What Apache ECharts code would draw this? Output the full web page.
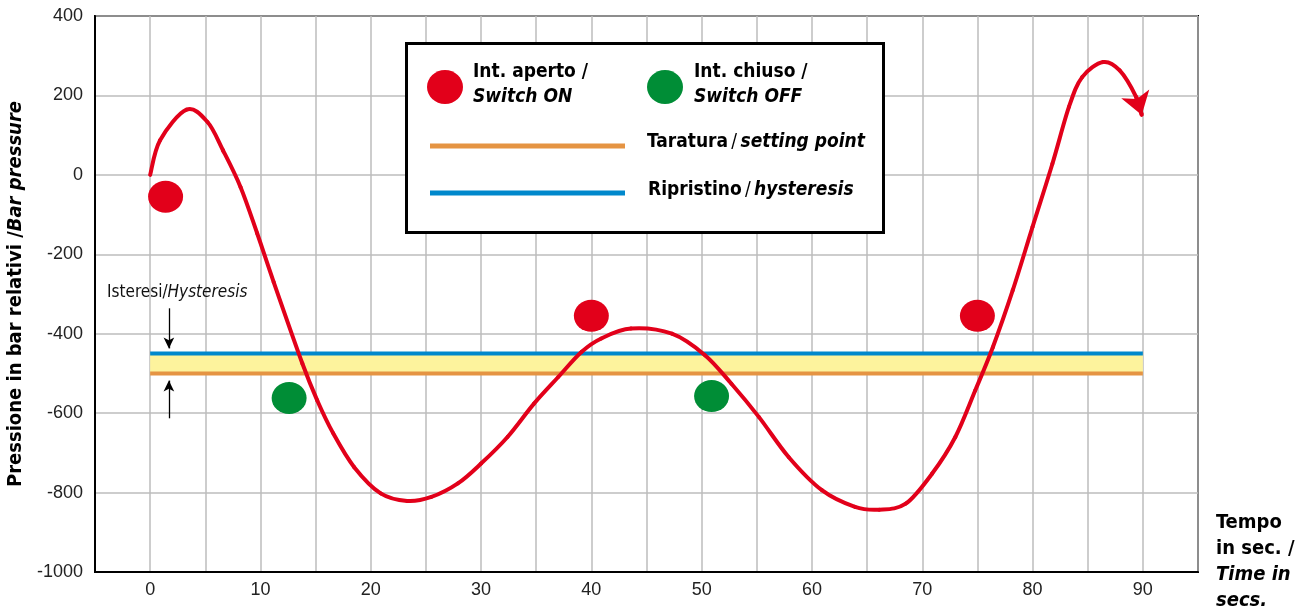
<!DOCTYPE html>
<html>
<head>
<meta charset="utf-8">
<script src="https://cdn.jsdelivr.net/npm/echarts@6/dist/echarts.min.js"></script>
<style>
  html, body { margin: 0; padding: 0; background: #fff; }
  #chart { width: 1306px; height: 616px; }
</style>
</head>
<body>
<div id="chart"></div>
<script>
// curve (time in s, pressure in bar)
const timeSec = [0, 0.9, 3.3, 5.2, 6.6, 8.2, 9.7, 11.2, 13.8, 15.15, 16.6, 18.5, 20.9, 23.3, 25.5, 27.9, 30, 32.4, 34.8, 37.0, 39.1, 40.9, 43.6, 47.3, 50.3, 52.7, 55.2, 57.9, 60.9, 63.9, 66.1, 68.5, 70.9, 73.0, 74.8, 76.4, 78.2, 80, 81.8, 83.3, 84.5, 86.4, 87.9, 89.4, 89.9]
const pressure = [0, 87, 164, 133, 62, -31, -147, -270, -475, -568, -651, -736, -802, -821, -811, -777, -727, -660, -576, -509, -446, -412, -387, -400, -454, -526, -610, -711, -794, -836, -843, -828, -752, -660, -543, -434, -291, -131, 28, 171, 246, 284, 263, 196, 151]

// switch markers
const switchOnTime = [1.4, 40, 75]
const switchOnPressure = [-55, -355, -355]
const switchOffTime = [12.6, 50.9]
const switchOffPressure = [-562, -557]

// setting point / hysteresis band
const settingPoint = -500
const resetPoint = -450
const bandTime = [0, 90]

// little arrows marking the hysteresis
const hystArrowTime = 1.7
const hystArrowDown = [-336, -437]
const hystArrowUp = [-613, -518]

const RED = '#e2001a'
const GREEN = '#008d36'
const BLUE = '#0088cc'
const ORANGE = '#e59443'
const YELLOW = '#fdf39d'
const FONT = "'DejaVu Sans Condensed', 'Liberation Sans Narrow', sans-serif"
const TICKFONT = "'Liberation Sans', Arial, sans-serif"

const curve = timeSec.map((t, i) => [t, pressure[i]])
const n = curve.length

const myChart = echarts.init(document.getElementById('chart'))

// each item draws the segment to the next point as a catmull-rom bezier
const renderCurveSegment = (params, api) => {
  const i = params.dataIndex
  if (i >= n - 1) return null
  const p0 = api.coord(curve[Math.max(i - 1, 0)])
  const p1 = api.coord(curve[i])
  const p2 = api.coord(curve[i + 1])
  const p3 = api.coord(curve[Math.min(i + 2, n - 1)])
  return {
    type: 'bezierCurve',
    shape: {
      x1: p1[0], y1: p1[1], x2: p2[0], y2: p2[1],
      cpx1: p1[0] + (p2[0] - p0[0]) / 6, cpy1: p1[1] + (p2[1] - p0[1]) / 6,
      cpx2: p2[0] - (p3[0] - p1[0]) / 6, cpy2: p2[1] - (p3[1] - p1[1]) / 6
    },
    style: { stroke: RED, lineWidth: 4, fill: null, lineCap: 'round' }
  }
}

const bold = { fontFamily: FONT, fontWeight: 'bold', fontSize: 19, fill: '#000' }
const boldItalic = { fontFamily: FONT, fontWeight: 'bold', fontStyle: 'italic', fontSize: 19, fill: '#000' }
const plain = { fontFamily: FONT, fontSize: 19, fill: '#000' }

const options = {
  animation: false,
  grid: {
    left: 95, right: 108, top: 16, bottom: 44,
    containLabel: false,
    outerBoundsMode: 'none',
    show: true,
    borderColor: '#000',
    borderWidth: 2,
    backgroundColor: 'transparent'
  },
  xAxis: {
    type: 'value',
    min: -5,
    max: 95,
    interval: 5,
    axisLine: { onZero: false, lineStyle: { color: '#000', width: 2 } },
    axisTick: { show: false },
    axisLabel: {
      color: '#222',
      fontSize: 18,
      fontFamily: TICKFONT,
      margin: 9,
      formatter: v => (v >= 0 && v <= 90 && v % 10 === 0) ? String(v) : ''
    },
    splitLine: { lineStyle: { color: '#bdbdbd', width: 1.5 } }
  },
  yAxis: {
    type: 'value',
    min: -1000,
    max: 400,
    interval: 200,
    name: '{b|Pressione in bar relativi /}{bi|Bar pressure}',
    nameLocation: 'middle',
    nameGap: 64,
    nameRotate: 90,
    nameTextStyle: {
      rich: {
        b: { fontFamily: FONT, fontWeight: 'bold', fontSize: 20, color: '#000' },
        bi: { fontFamily: FONT, fontWeight: 'bold', fontStyle: 'italic', fontSize: 20, color: '#000' }
      }
    },
    axisLine: { show: true, onZero: false, lineStyle: { color: '#000', width: 2 } },
    axisTick: { show: false },
    axisLabel: { color: '#222', fontSize: 18, fontFamily: TICKFONT, margin: 12, formatter: v => String(v) },
    splitLine: { lineStyle: { color: '#bdbdbd', width: 1.5 } }
  },
  series: [
    {
      name: 'Taratura',
      type: 'line',
      symbol: 'none',
      silent: true,
      data: bandTime.map(t => [t, settingPoint]),
      lineStyle: { color: ORANGE, width: 4 },
      markArea: {
        silent: true,
        itemStyle: { color: YELLOW },
        data: [[{ coord: [bandTime[0], settingPoint] }, { coord: [bandTime[1], resetPoint] }]]
      },
      z: 2
    },
    {
      name: 'Ripristino',
      type: 'line',
      symbol: 'none',
      silent: true,
      data: bandTime.map(t => [t, resetPoint]),
      lineStyle: { color: BLUE, width: 4 },
      markLine: {
        silent: true,
        symbol: ['none', 'arrow'],
        symbolSize: [8, 11],
        label: { show: false },
        lineStyle: { color: '#000', width: 1.3, type: 'solid' },
        data: [
          [{ coord: [hystArrowTime, hystArrowDown[0]] }, { coord: [hystArrowTime, hystArrowDown[1]] }],
          [{ coord: [hystArrowTime, hystArrowUp[0]] }, { coord: [hystArrowTime, hystArrowUp[1]] }]
        ]
      },
      z: 3
    },
    {
      name: 'Pressione',
      type: 'custom',
      renderItem: renderCurveSegment,
      data: curve,
      encode: { x: 0, y: 1 },
      silent: true,
      z: 5
    },
    {
      // arrow head at the end of the curve
      type: 'lines',
      coordinateSystem: 'cartesian2d',
      symbol: ['none', 'arrow'],
      symbolSize: [22, 22],
      data: [{ coords: [curve[n - 2], curve[n - 1]] }],
      lineStyle: { color: RED, width: 4, opacity: 1 },
      z: 5
    },
    {
      name: 'Int. aperto',
      type: 'scatter',
      symbol: 'circle',
      symbolSize: [35, 32],
      data: switchOnTime.map((t, i) => [t, switchOnPressure[i]]),
      itemStyle: { color: RED, opacity: 1 },
      z: 6
    },
    {
      name: 'Int. chiuso',
      type: 'scatter',
      symbol: 'circle',
      symbolSize: [35, 32],
      data: switchOffTime.map((t, i) => [t, switchOffPressure[i]]),
      itemStyle: { color: GREEN, opacity: 1 },
      z: 6
    }
  ],
  graphic: [
    // legend box
    {
      type: 'rect', left: 405, top: 42, z: 100,
      shape: { width: 477, height: 189 },
      style: { fill: '#fff', stroke: '#000', lineWidth: 3 }
    },
    {
      type: 'ellipse', z: 101,
      shape: { cx: 445, cy: 87, rx: 18, ry: 17 },
      style: { fill: RED }
    },
    {
      type: 'text', left: 473, top: 63, z: 101,
      style: {
        text: '{b|Int. aperto /}\n{bi|Switch ON}',
        rich: { b: { ...bold, lineHeight: 25 }, bi: { ...boldItalic, lineHeight: 25 } }
      }
    },
    {
      type: 'ellipse', z: 101,
      shape: { cx: 665, cy: 87, rx: 18, ry: 17 },
      style: { fill: GREEN }
    },
    {
      type: 'text', left: 694, top: 63, z: 101,
      style: {
        text: '{b|Int. chiuso /}\n{bi|Switch OFF}',
        rich: { b: { ...bold, lineHeight: 25 }, bi: { ...boldItalic, lineHeight: 25 } }
      }
    },
    {
      type: 'line', z: 101,
      shape: { x1: 430, y1: 146, x2: 625, y2: 146 },
      style: { stroke: ORANGE, lineWidth: 5 }
    },
    {
      type: 'text', left: 647, top: 133, z: 101,
      style: {
        text: '{b|Taratura} {r|/} {bi|setting point}',
        rich: { b: bold, r: plain, bi: boldItalic }
      }
    },
    {
      type: 'line', z: 101,
      shape: { x1: 430, y1: 193, x2: 625, y2: 193 },
      style: { stroke: BLUE, lineWidth: 5 }
    },
    {
      type: 'text', left: 648, top: 181, z: 101,
      style: {
        text: '{b|Ripristino} {r|/} {bi|hysteresis}',
        rich: { b: bold, r: plain, bi: boldItalic }
      }
    },
    // hysteresis note
    {
      type: 'text', left: 107, top: 284, z: 50,
      style: {
        text: '{r|Isteresi/}{i|Hysteresis}',
        rich: {
          r: { fontFamily: FONT, fontSize: 17, fill: '#111' },
          i: { fontFamily: FONT, fontStyle: 'italic', fontSize: 17, fill: '#111' }
        }
      }
    },
    // x axis name
    {
      type: 'text', left: 1216, top: 513, z: 50,
      style: {
        text: '{b|Tempo}\n{b|in sec. /}\n{bi|Time in}\n{bi|secs.}',
        rich: {
          b: { fontFamily: FONT, fontWeight: 'bold', fontSize: 20, lineHeight: 26, fill: '#000' },
          bi: { fontFamily: FONT, fontWeight: 'bold', fontStyle: 'italic', fontSize: 20, lineHeight: 26, fill: '#000' }
        }
      }
    }
  ]
}

myChart.setOption(options)
</script>
</body>
</html>
